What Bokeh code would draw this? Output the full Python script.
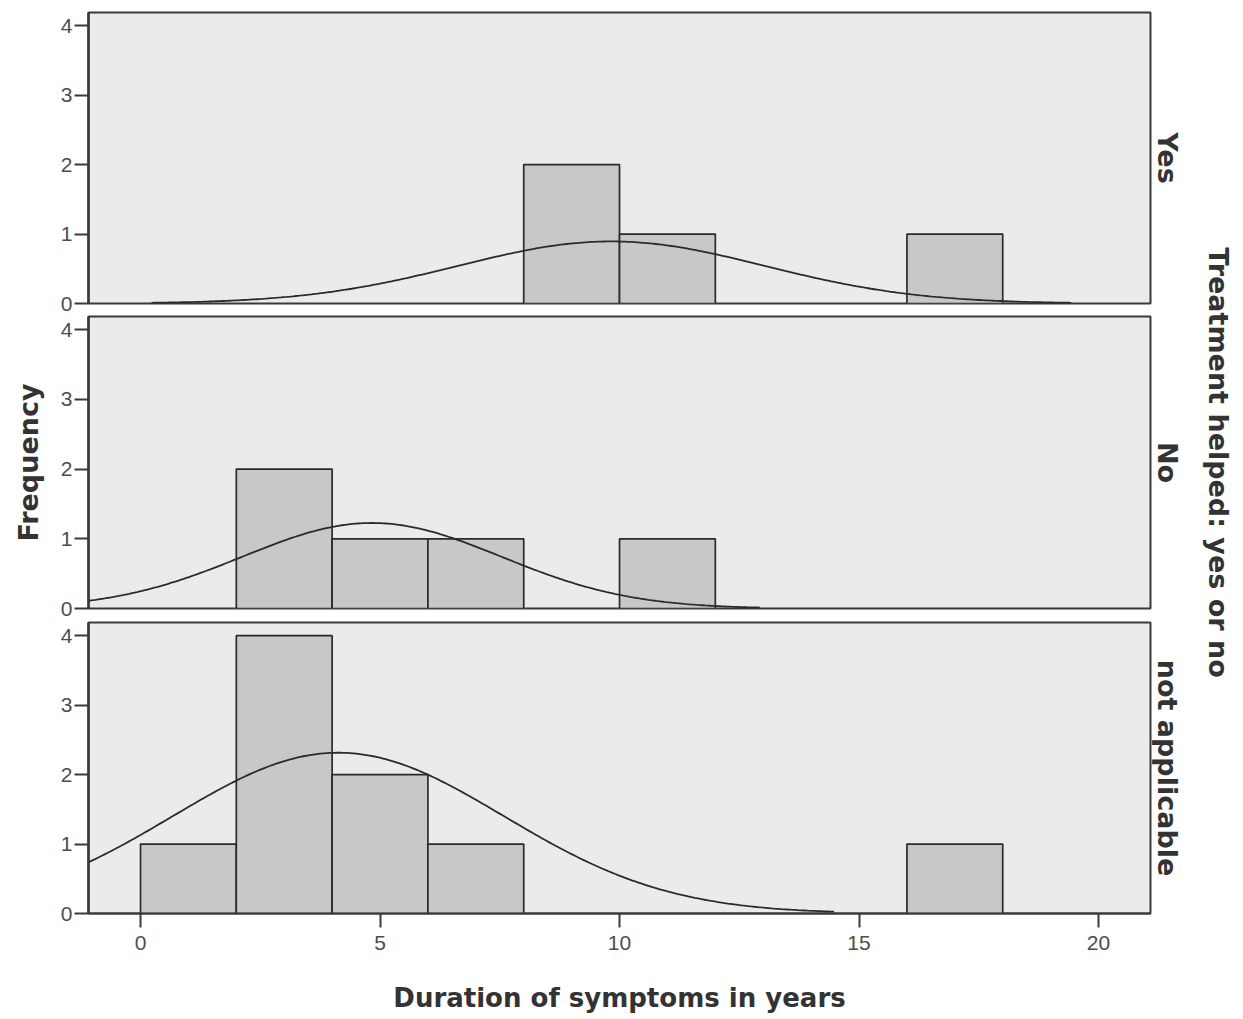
import numpy as np
from bokeh.plotting import figure
from bokeh.layouts import column, row
from bokeh.models import Range1d, LinearAxis, FixedTicker, ColumnDataSource
from bokeh.core.properties import value
from bokeh.embed import file_html
from bokeh.resources import INLINE

# ---- data ----
bin_lefts = [0, 2, 4, 6, 8, 10, 12, 14, 16, 18]
bin_width = 2
panel_labels = ["Yes", "No", "not applicable"]
counts_yes = [0, 0, 0, 0, 2, 1, 0, 0, 1, 0]
counts_no = [0, 2, 1, 1, 0, 1, 0, 0, 0, 0]
counts_na = [1, 4, 2, 1, 0, 0, 0, 0, 1, 0]
# fitted normal curves: mean, sd, peak height (frequency)
curve_mean = [9.83, 4.83, 4.13]
curve_sd = [3.2, 2.7, 3.45]
curve_peak = [0.894, 1.227, 2.315]
x_ticks = [0, 5, 10, 15, 20]
y_ticks = [0, 1, 2, 3, 4]

X_TITLE = "Duration of symptoms in years"
Y_TITLE = "Frequency"
RIGHT_TITLE = "Treatment helped: yes or no"

FRAME_BG = "#ebebeb"
BAR_FILL = "#c8c8c8"
DARK = "#3a3a3a"
TEXT = "#333333"
TICK_TEXT = "#4d4d4d"
TICK_FONT = "Liberation Sans"
TITLE_FONT = "DejaVu Sans"

LEFT_W = 1188
X_RANGE = (-1.086, 21.085)
Y_RANGE = (0, 4.19)


def make_panel(counts, mean, sd, peak, label, top_b, frame_h, bottom_b, show_x, ylabel):
    p = figure(width=LEFT_W, height=top_b + frame_h + bottom_b,
               x_range=Range1d(*X_RANGE), y_range=Range1d(*Y_RANGE),
               output_backend="svg", toolbar_location=None,
               x_axis_location="below" if show_x else None,
               min_border_left=88, min_border_right=38,
               min_border_top=top_b, min_border_bottom=bottom_b)
    p.background_fill_color = FRAME_BG
    p.border_fill_color = "white"
    p.outline_line_color = DARK
    p.outline_line_width = 2
    p.grid.visible = False

    lefts = [l for l, c in zip(bin_lefts, counts) if c > 0]
    tops = [c for c in counts if c > 0]
    src = ColumnDataSource(dict(left=lefts, right=[l + bin_width for l in lefts],
                                top=tops, bottom=[0] * len(tops)))
    p.quad(left="left", right="right", top="top", bottom="bottom", source=src,
           fill_color=BAR_FILL, line_color="#2a2a2a", line_width=1.7)

    xs = np.linspace(mean - 3 * sd, mean + 3 * sd, 300)
    ys = peak * np.exp(-0.5 * ((xs - mean) / sd) ** 2)
    p.line(xs, ys, line_color="#2b2b2b", line_width=1.8)

    ya = p.yaxis[0]
    ya.ticker = FixedTicker(ticks=y_ticks)
    ya.minor_tick_line_color = None
    ya.major_tick_in = 0
    ya.major_tick_out = 14
    ya.major_tick_line_width = 2
    ya.major_tick_line_color = DARK
    ya.axis_line_width = 2.5
    ya.axis_line_color = DARK
    ya.major_label_standoff = 2
    ya.major_label_text_font = TICK_FONT
    ya.major_label_text_font_size = "21px"
    ya.major_label_text_color = TICK_TEXT
    if ylabel:
        ya.axis_label = ylabel
        ya.axis_label_text_font = TITLE_FONT
        ya.axis_label_text_font_style = "bold"
        ya.axis_label_text_font_size = "27px"
        ya.axis_label_text_color = TEXT
        ya.axis_label_standoff = 14

    ra = LinearAxis(ticker=FixedTicker(ticks=[]), axis_label=label)
    ra.axis_line_color = None
    ra.major_tick_out = 0
    ra.major_tick_in = 0
    ra.minor_tick_line_color = None
    ra.major_label_standoff = 0
    ra.axis_label_standoff = 1
    ra.axis_label_text_font = TITLE_FONT
    ra.axis_label_text_font_style = "bold"
    ra.axis_label_text_font_size = "27px"
    ra.axis_label_text_color = TEXT
    p.add_layout(ra, "right")

    if show_x:
        xa = p.xaxis[0]
        xa.ticker = FixedTicker(ticks=x_ticks)
        xa.minor_tick_line_color = None
        xa.major_tick_in = 0
        xa.major_tick_out = 14
        xa.major_tick_line_width = 2
        xa.major_tick_line_color = DARK
        xa.axis_line_width = 2
        xa.axis_line_color = DARK
        xa.major_label_standoff = 8
        xa.major_label_text_font = TICK_FONT
        xa.major_label_text_font_size = "21px"
        xa.major_label_text_color = TICK_TEXT
        xa.axis_label = X_TITLE
        xa.axis_label_text_font = TITLE_FONT
        xa.axis_label_text_font_style = "bold"
        xa.axis_label_text_font_size = "26px"
        xa.axis_label_text_color = TEXT
        xa.axis_label_standoff = 30
    return p


pa = make_panel(counts_yes, curve_mean[0], curve_sd[0], curve_peak[0], panel_labels[0],
                12, 291, 12, False, None)
pb = make_panel(counts_no, curve_mean[1], curve_sd[1], curve_peak[1], panel_labels[1],
                1, 292, 13, False, Y_TITLE)
pc = make_panel(counts_na, curve_mean[2], curve_sd[2], curve_peak[2], panel_labels[2],
                1, 291, 104, True, None)

TOTAL_H = pa.height + pb.height + pc.height
RW = 52
pr = figure(width=RW, height=TOTAL_H, x_range=Range1d(0, RW), y_range=Range1d(0, TOTAL_H),
            output_backend="svg", toolbar_location=None,
            x_axis_location=None, y_axis_location=None,
            min_border=0)
pr.outline_line_color = None
pr.grid.visible = False
pr.background_fill_color = "white"
pr.border_fill_color = "white"
pr.text(x=[30], y=[TOTAL_H - 462], text=[RIGHT_TITLE], angle=-np.pi / 2,
        text_align="center", text_baseline="middle",
        text_font=value(TITLE_FONT), text_font_style="bold",
        text_font_size="27px", text_color=TEXT)

layout = row(column(pa, pb, pc, spacing=0), pr, spacing=0)
open("out.html", "w").write(file_html(layout, INLINE))
